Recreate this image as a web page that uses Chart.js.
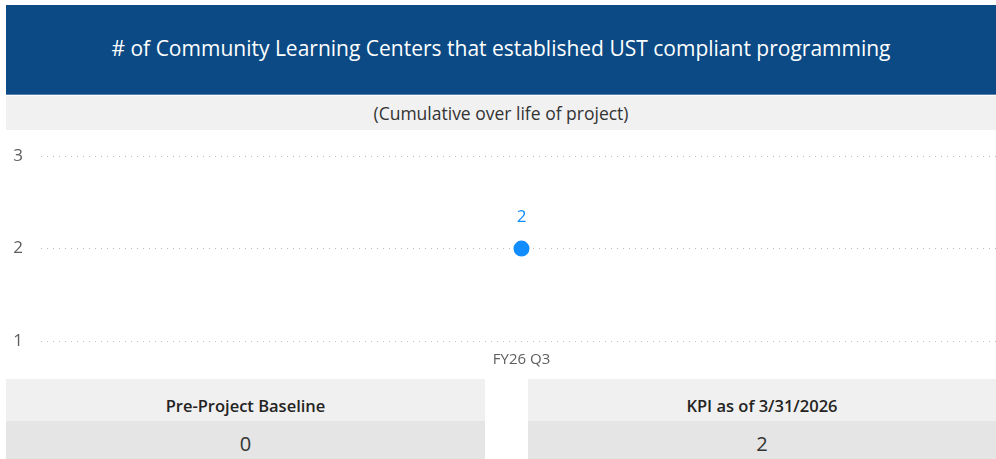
<!DOCTYPE html>
<html>
<head>
<meta charset="utf-8">
<script src="https://cdn.jsdelivr.net/npm/chart.js@4/dist/chart.umd.min.js"></script>
<style>
  html, body { margin: 0; padding: 0; background: #fff; overflow: hidden; width: 996px; height: 459px; }
  body { position: relative; font-family: "Open Sans", "Noto Sans", sans-serif; }
  #title { position: absolute; left: 6px; top: 5px; width: 990px; height: 90px; background: #0B4A84; z-index: 2;
           color: #fff; font-size: 21px; display: flex; align-items: center; justify-content: center; border-bottom: 1px solid #5b7fae; box-sizing: border-box; padding-bottom: 4px; }
  #subtitle { position: absolute; left: 6px; top: 96px; width: 990px; height: 34px; background: #F1F1F1; z-index: 2;
              color: #333; font-size: 17.5px; display: flex; align-items: center; justify-content: center; }
  #chartWrap { position: absolute; left: 0; top: 128px; width: 1011px; height: 245px; z-index: 1; }
  .card { position: absolute; top: 379px; height: 80px; z-index: 2; }
  .card .h { height: 42px; background: #F0F0F0; color: #252423; font-size: 16.5px; font-weight: 600;
             display: flex; align-items: center; justify-content: center; box-sizing: border-box; padding-top: 10px; }
  .card .v { height: 38px; background: #E5E5E5; color: #333; font-size: 20px;
             display: flex; align-items: center; justify-content: center; box-sizing: border-box; padding-top: 6px; }
</style>
</head>
<body>
<div id="title"></div>
<div id="subtitle"></div>
<div id="chartWrap"><canvas id="c" width="1011" height="245"></canvas></div>
<div class="card" id="card0" style="left:6px; width:479px;"><div class="h"></div><div class="v"></div></div>
<div class="card" id="card1" style="left:528px; width:468px;"><div class="h"></div><div class="v"></div></div>
<script>
const titleText = "# of Community Learning Centers that established UST compliant programming";
const subtitleText = "(Cumulative over life of project)";
const categories = ["FY26 Q3"];
const kpiValues = [2];
const yTicks = [1, 2, 3];
const cardLabels = ["Pre-Project Baseline", "KPI as of 3/31/2026"];
const cardValues = [0, 2];

document.getElementById('title').textContent = titleText;
document.getElementById('subtitle').textContent = subtitleText;
cardLabels.forEach((l, i) => {
  const c = document.getElementById('card' + i);
  c.querySelector('.h').textContent = l;
  c.querySelector('.v').textContent = cardValues[i];
});

const labelPlugin = {
  id: 'pointLabels',
  afterDatasetsDraw(chart) {
    const ctx = chart.ctx;
    const meta = chart.getDatasetMeta(0);
    ctx.save();
    ctx.fillStyle = '#118DFF';
    ctx.font = '17px "Open Sans", sans-serif';
    ctx.textAlign = 'center';
    ctx.textBaseline = 'middle';
    meta.data.forEach((pt, i) => {
      ctx.fillText(String(kpiValues[i]), pt.x, pt.y - 31);
    });
    ctx.restore();
  }
};

new Chart(document.getElementById('c'), {
  type: 'line',
  data: {
    labels: categories,
    datasets: [{
      data: kpiValues,
      borderColor: '#118DFF',
      backgroundColor: '#118DFF',
      pointRadius: 7,
      pointHoverRadius: 7,
      borderWidth: 2
    }]
  },
  options: {
    responsive: false,
    animation: false,
    layout: { padding: { left: 0, right: 0, top: 0, bottom: 2 } },
    plugins: { legend: { display: false }, tooltip: { enabled: false } },
    scales: {
      x: {
        offset: true,
        grid: { display: false },
        border: { display: false },
        ticks: { color: '#605E5C', font: { size: 15, family: '"Open Sans", sans-serif' }, padding: 2 }
      },
      y: {
        min: yTicks[0],
        max: yTicks[yTicks.length - 1],
        afterBuildTicks(scale) { scale.ticks = yTicks.map(v => ({ value: v })); },
        afterFit(scale) { scale.width = 41; },
        grid: { color: '#BDBDBD', lineWidth: 1, drawTicks: false },
        border: { display: false, dash: [1, 5] },
        ticks: { color: '#605E5C', font: { size: 17, family: '"Open Sans", sans-serif' }, padding: 18,
                 align: 'center' }
      }
    }
  },
  plugins: [labelPlugin]
});
</script>
</body>
</html>
